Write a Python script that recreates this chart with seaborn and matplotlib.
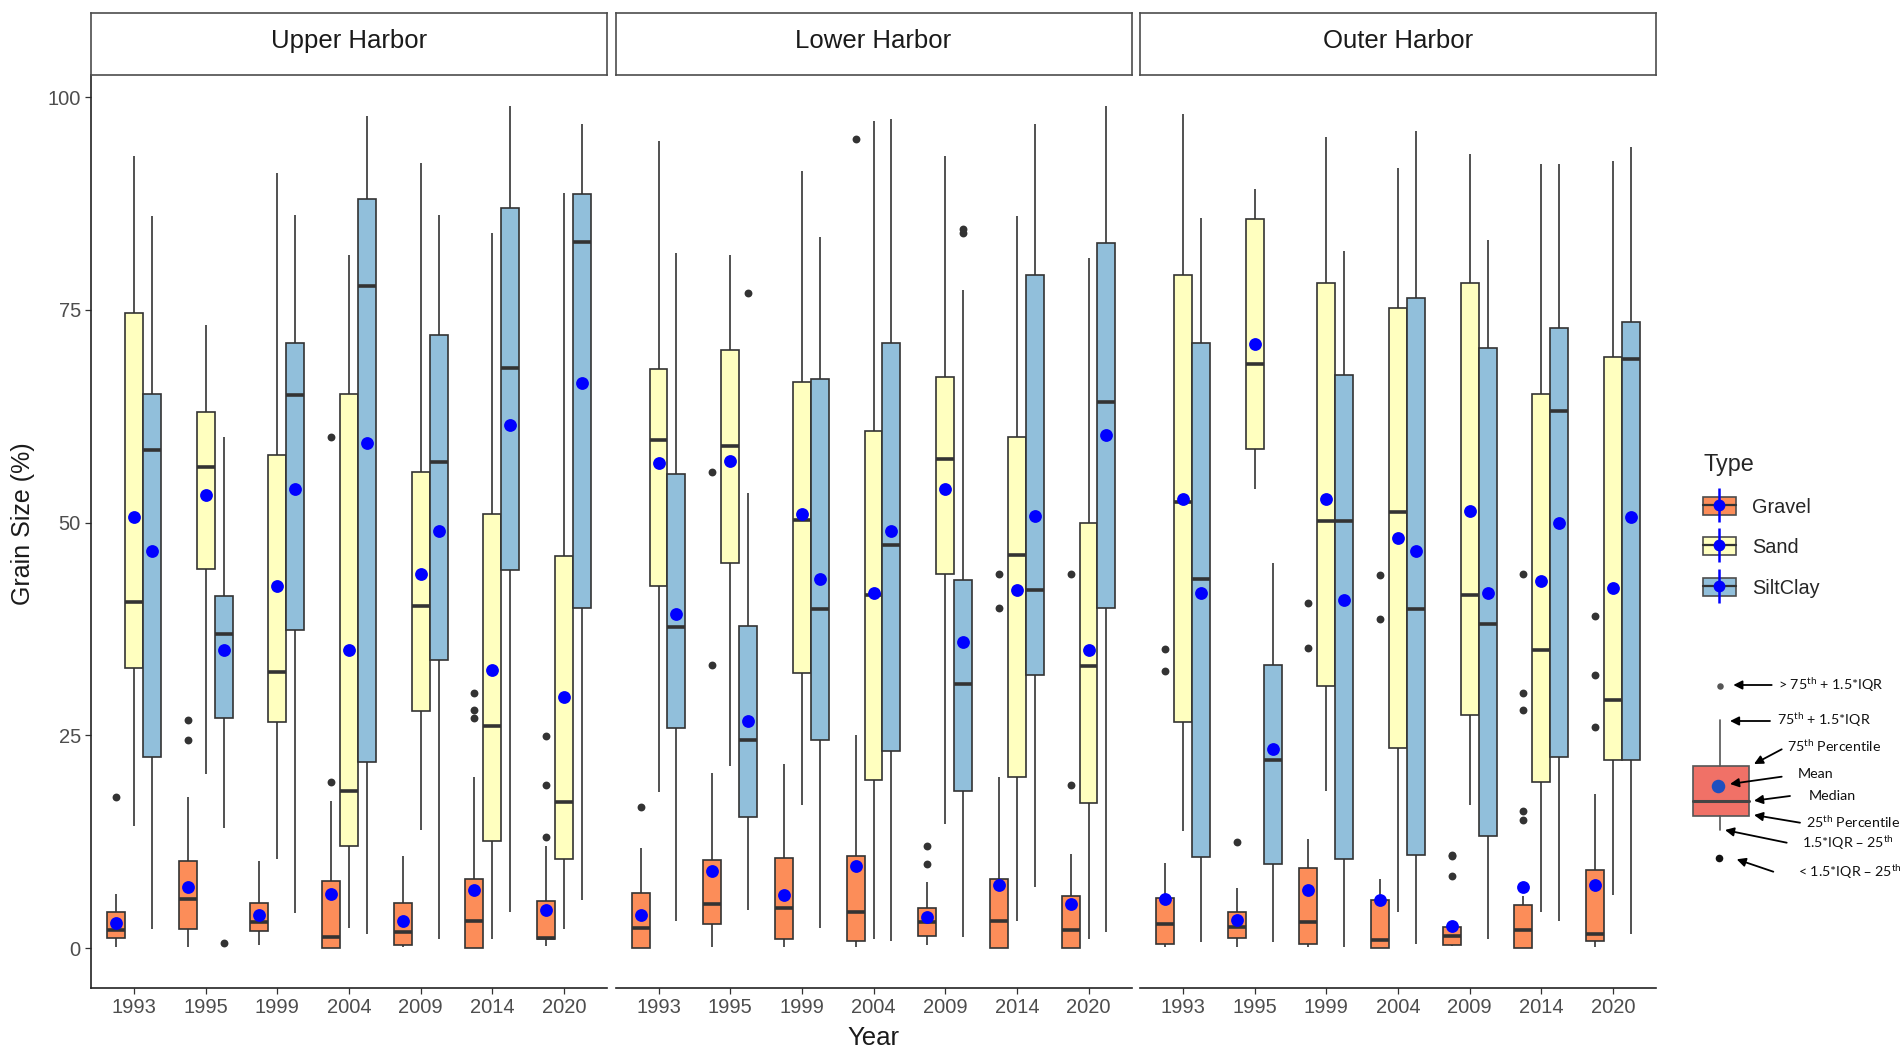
import numpy as np
import pandas as pd
import seaborn as sns
import matplotlib.pyplot as plt
from matplotlib.lines import Line2D
from matplotlib.patches import Patch, Rectangle
from matplotlib.legend_handler import HandlerTuple

years = ['1993', '1995', '1999', '2004', '2009', '2014', '2020']
types = ['Gravel', 'Sand', 'SiltClay']
harbors = ['Upper Harbor', 'Lower Harbor', 'Outer Harbor']
type_colors = ['#FC8D59', '#FFFFBF', '#91BFDB']

# box summaries per year: (lower whisker, 25th, median, 75th, upper whisker)
upper_gravel = [(0.1, 1.15, 2.1, 4.25, 6.3), (0.1, 2.2, 5.8, 10.2, 17.8), (0.3, 2.0, 3.0, 5.3, 10.2),
                (0.0, 0.0, 1.3, 7.9, 17.3), (0.1, 0.3, 1.9, 5.3, 10.8), (0.0, 0.0, 3.2, 8.1, 20.1),
                (0.2, 1.0, 1.15, 5.5, 12.0)]
upper_sand = [(14.3, 32.9, 40.7, 74.6, 93.1), (20.5, 44.6, 56.5, 63.0, 73.2), (10.5, 26.6, 32.4, 57.9, 91.1),
              (2.3, 12.0, 18.4, 65.1, 81.5), (13.9, 27.8, 40.2, 55.9, 92.3), (1.1, 12.6, 26.1, 51.0, 84.0),
              (2.2, 10.5, 17.2, 46.1, 88.7)]
upper_silt = [(2.2, 22.5, 58.5, 65.1, 86.0), (14.1, 27.0, 36.9, 41.4, 60.0), (4.1, 37.4, 65.0, 71.1, 86.2),
              (1.6, 21.9, 77.8, 88.0, 97.8), (1.1, 33.9, 57.1, 72.1, 86.2), (4.2, 44.4, 68.2, 87.0, 99.0),
              (5.6, 40.0, 83.0, 88.6, 96.9)]
lower_gravel = [(0.0, 0.0, 2.35, 6.5, 11.8), (0.1, 2.8, 5.2, 10.4, 20.6), (0.1, 1.0, 4.7, 10.6, 21.6),
                (0.1, 0.8, 4.2, 10.8, 25.0), (0.3, 1.4, 3.0, 4.7, 7.7), (0.0, 0.0, 3.2, 8.1, 20.1),
                (0.0, 0.0, 2.1, 6.1, 11.0)]
lower_sand = [(18.3, 42.6, 59.7, 68.1, 94.9), (21.4, 45.2, 59.0, 70.3, 81.5), (16.8, 32.3, 50.3, 66.5, 91.3),
              (1.1, 19.7, 41.5, 60.8, 97.2), (14.6, 44.0, 57.5, 67.1, 93.1), (3.2, 20.1, 46.2, 60.0, 86.0),
              (1.1, 17.0, 33.2, 50.0, 81.1)]
lower_silt = [(3.2, 25.9, 37.7, 55.7, 81.7), (4.5, 15.4, 24.4, 37.8, 53.5), (2.35, 24.5, 39.9, 66.9, 83.6),
              (0.8, 23.1, 47.4, 71.1, 97.4), (1.3, 18.4, 31.0, 43.2, 77.3), (7.2, 32.1, 42.1, 79.1, 96.9),
              (1.9, 40.0, 64.2, 82.9, 99.0)]
outer_gravel = [(0.1, 0.5, 2.8, 5.9, 10.0), (0.1, 1.15, 2.5, 4.2, 7.1), (0.1, 0.5, 3.0, 9.4, 12.8),
                (0.0, 0.0, 0.9, 5.6, 8.1), (0.2, 0.3, 1.4, 2.5, 3.0), (0.0, 0.0, 2.1, 5.1, 6.1),
                (0.1, 0.8, 1.7, 9.2, 18.1)]
outer_sand = [(13.7, 26.6, 52.4, 79.1, 98.0), (54.0, 58.7, 68.6, 85.7, 89.2), (18.4, 30.8, 50.2, 78.1, 95.3),
              (4.2, 23.5, 51.2, 75.2, 91.7), (16.8, 27.4, 41.5, 78.1, 93.3), (4.2, 19.5, 35.0, 65.1, 92.1),
              (6.2, 22.1, 29.1, 69.5, 92.5)]
outer_silt = [(0.7, 10.7, 43.4, 71.1, 85.8), (0.7, 9.9, 22.1, 33.3, 45.3), (0.1, 10.5, 50.2, 67.3, 81.9),
              (0.5, 10.9, 39.9, 76.4, 96.0), (1.0, 13.2, 38.1, 70.5, 83.2), (3.2, 22.5, 63.1, 72.9, 92.1),
              (1.7, 22.1, 69.2, 73.6, 94.1)]

# means per year
upper_gravel_mean = [2.9, 7.2, 3.9, 6.4, 3.2, 6.8, 4.5]
upper_sand_mean = [50.7, 53.2, 42.5, 35.0, 43.9, 32.7, 29.5]
upper_silt_mean = [46.6, 35.0, 54.0, 59.3, 49.0, 61.5, 66.4]
lower_gravel_mean = [3.9, 9.0, 6.2, 9.6, 3.7, 7.4, 5.2]
lower_sand_mean = [57.0, 57.2, 51.0, 41.7, 54.0, 42.1, 35.0]
lower_silt_mean = [39.3, 26.7, 43.4, 49.0, 36.0, 50.8, 60.3]
outer_gravel_mean = [5.8, 3.3, 6.8, 5.6, 2.6, 7.2, 7.4]
outer_sand_mean = [52.8, 71.0, 52.8, 48.2, 51.4, 43.1, 42.3]
outer_silt_mean = [41.7, 23.4, 40.9, 46.6, 41.7, 50.0, 50.6]

# outliers per year
upper_gravel_out = [[17.8], [26.8, 24.5], [], [60.0, 19.5], [], [30.0, 28.0, 27.0], [24.9, 19.1, 13.0]]
upper_sand_out = [[], [], [], [], [], [], []]
upper_silt_out = [[], [0.6], [], [], [], [], []]
lower_gravel_out = [[16.6], [55.9, 33.3], [], [95.1], [12.0, 9.9], [44.0, 40.0], [44.0, 19.1]]
lower_sand_out = [[], [], [], [], [], [], []]
lower_silt_out = [[], [77.0], [], [], [84.5, 84.0], [], []]
outer_gravel_out = [[35.1, 32.5], [12.4], [40.6, 35.3], [43.8, 38.7], [10.9, 10.8, 8.5],
                    [44.0, 30.0, 28.0, 16.1, 15.0], [39.0, 32.1, 26.0]]
outer_sand_out = [[], [], [], [], [], [], []]
outer_silt_out = [[], [], [], [], [], [], []]

panel_boxes = [[upper_gravel, upper_sand, upper_silt],
               [lower_gravel, lower_sand, lower_silt],
               [outer_gravel, outer_sand, outer_silt]]
panel_means = [[upper_gravel_mean, upper_sand_mean, upper_silt_mean],
               [lower_gravel_mean, lower_sand_mean, lower_silt_mean],
               [outer_gravel_mean, outer_sand_mean, outer_silt_mean]]
panel_outs = [[upper_gravel_out, upper_sand_out, upper_silt_out],
              [lower_gravel_out, lower_sand_out, lower_silt_out],
              [outer_gravel_out, outer_sand_out, outer_silt_out]]

sns.set_style('ticks')
plt.rcParams['font.family'] = ['Liberation Sans', 'DejaVu Sans']
plt.rcParams['mathtext.default'] = 'regular'

W, H = 1900, 1052
fig = plt.figure(figsize=(19, 10.52), dpi=100)

panel_left = [91, 615.5, 1140]
panel_w = 516
top, bottom = 75, 988
palette = dict(zip(types, type_colors))
dodge = [-0.25, 0.0, 0.25]

for i, harbor in enumerate(harbors):
    ax = fig.add_axes([panel_left[i] / W, 1 - bottom / H, panel_w / W, (bottom - top) / H])

    rows = []
    for k, t in enumerate(types):
        for j, yr in enumerate(years):
            for v in panel_boxes[i][k][j]:
                rows.append({'Year': yr, 'Type': t, 'value': v})
    df = pd.DataFrame(rows)

    sns.boxplot(data=df, x='Year', y='value', hue='Type', order=years, hue_order=types,
                palette=palette, saturation=1, width=0.75, gap=0, whis=(0, 100),
                showcaps=False, fliersize=0, linewidth=1.2, linecolor='#333333',
                medianprops=dict(linewidth=2.6, color='#333333'), legend=False, ax=ax)

    for k in range(3):
        xs = np.arange(len(years)) + dodge[k]
        ax.scatter(xs, panel_means[i][k], s=85, color='#0000FF', linewidths=0, zorder=6)
        ox, oy = [], []
        for j, vals in enumerate(panel_outs[i][k]):
            ox += [j + dodge[k]] * len(vals)
            oy += vals
        if ox:
            ax.scatter(ox, oy, s=32, color='#333333', linewidths=0, zorder=5)

    ax.set_xlim(-0.6, 6.6)
    ax.set_ylim(-4.7, 102.6)
    ax.set_yticks([0, 25, 50, 75, 100])
    ax.set_xlabel('')
    ax.set_ylabel('')
    ax.tick_params(axis='both', colors='#333333', labelcolor='#4D4D4D', labelsize=14.5,
                   length=4.3, width=0.9, pad=3)
    for side in ['top', 'right']:
        ax.spines[side].set_visible(False)
    ax.spines['bottom'].set_color('#222222')
    ax.spines['bottom'].set_linewidth(1.2)
    ax.spines['left'].set_color('#222222')
    ax.spines['left'].set_linewidth(1.2)
    if i > 0:
        ax.spines['left'].set_visible(False)
        ax.tick_params(axis='y', left=False, labelleft=False)

    # facet strip
    sax = fig.add_axes([panel_left[i] / W, 1 - 75 / H, panel_w / W, 62 / H])
    sax.set_xticks([])
    sax.set_yticks([])
    for s in sax.spines.values():
        s.set_color('#4D4D4D')
        s.set_linewidth(1.2)
    sax.text(0.5, 0.55, harbor, ha='center', va='center', fontsize=18.5, color='#1A1A1A')

fig.text(873.5 / W, 1 - 1038 / H, 'Year', ha='center', va='center', fontsize=18.5, color='#1A1A1A')
fig.text(23 / W, 1 - 524 / H, 'Grain Size (%)', ha='center', va='center', rotation=90,
         fontsize=18, color='#1A1A1A')

# legend
handles = []
for c in type_colors:
    handles.append((Patch(facecolor=c, edgecolor='#4D4D4D', linewidth=1.2),
                    Line2D([0], [0], color='#333333', lw=1.6),
                    Line2D([0], [0], ls='none', marker='|', color='#0000FF', markersize=25, mew=1.8),
                    Line2D([0], [0], ls='none', marker='o', color='#0000FF', markersize=8.5, mec='none')))
fig.legend(handles, types, title='Type', loc='upper left', bbox_to_anchor=(1703 / W, 1 - 453 / H),
           frameon=False, fontsize=14.3, title_fontsize=16.8, handlelength=1.65, handleheight=1.0,
           handletextpad=0.8, labelspacing=1.05, borderpad=0, borderaxespad=0, alignment='left',
           handler_map={tuple: HandlerTuple(ndivide=1, pad=0)})

# explanatory box diagram
ann = fig.add_axes([0, 0, 1, 1])
ann.set_xlim(0, W)
ann.set_ylim(H, 0)
ann.axis('off')
ann.add_patch(Rectangle((1692.7, 766), 56.6, 50, facecolor='#F07167', edgecolor='#555555', lw=1.2, zorder=2))
ann.plot([1692.7, 1749.3], [800.7, 800.7], color='#444444', lw=2.2, zorder=3)
ann.plot([1720, 1720], [720, 766], color='#555555', lw=1.2)
ann.plot([1720, 1720], [816, 830], color='#555555', lw=1.2)
ann.scatter([1718], [786], s=95, color='#1F4FBF', linewidths=0, zorder=4)
ann.scatter([1720], [686], s=22, color='#555555', linewidths=0)
ann.scatter([1719], [858], s=30, color='#111111', linewidths=0)

labels = [('> 75$^{th}$ + 1.5*IQR', 1778, 685), ('75$^{th}$ + 1.5*IQR', 1777, 720),
          ('75$^{th}$ Percentile', 1787, 746), ('Mean', 1798, 774), ('Median', 1809, 796),
          ('25$^{th}$ Percentile', 1806, 822), ('1.5*IQR \u2013 25$^{th}$', 1802, 843),
          ('< 1.5*IQR \u2013 25$^{th}$', 1798, 872)]
arrows = [((1771.7, 685), (1733.3, 685)), ((1770, 721), (1730, 721)), ((1781.7, 749.3), (1754, 764)),
          ((1781.7, 776.7), (1730, 784)), ((1790, 796), (1754, 800.7)), ((1800, 822.7), (1754, 815)),
          ((1786.7, 842.7), (1725, 830)), ((1773.3, 871.7), (1736.7, 859.3))]
for txt, x, y in labels:
    ann.text(x, y, txt, ha='left', va='center', fontsize=10.3, family=['Lato', 'DejaVu Sans'], color='#111111')
for tail, tip in arrows:
    ann.annotate('', xy=tip, xytext=tail,
                 arrowprops=dict(arrowstyle='-|>', color='black', lw=1.3, mutation_scale=13,
                                 shrinkA=0, shrinkB=0))

fig.savefig('out.png', dpi=100)
